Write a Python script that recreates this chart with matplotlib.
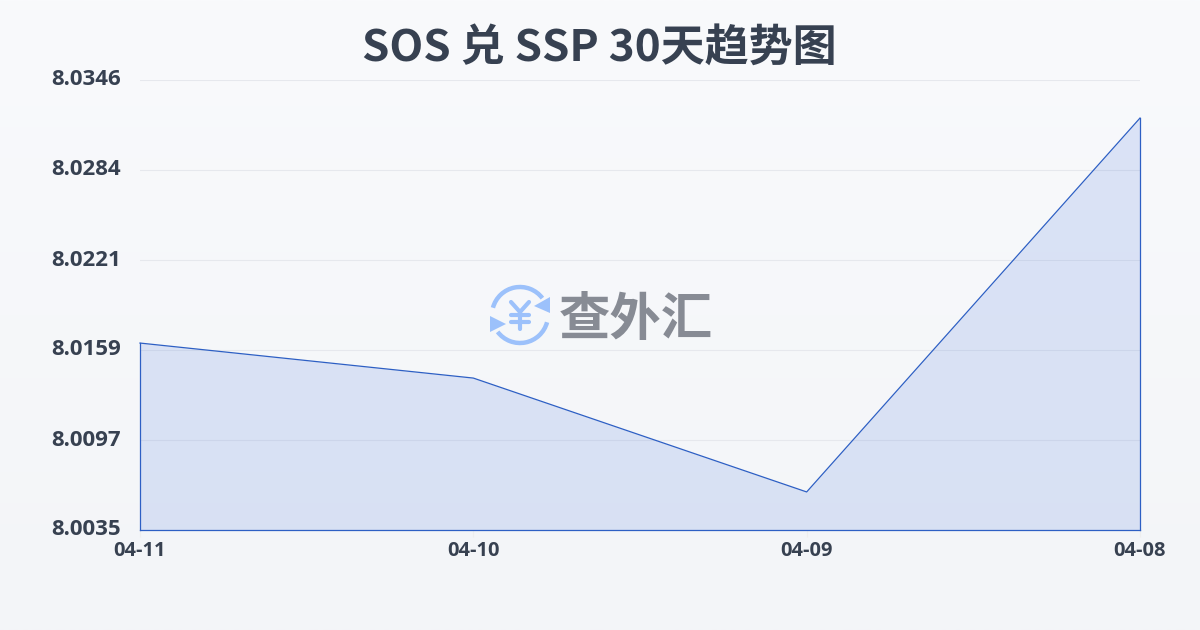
import numpy as np
import matplotlib
matplotlib.use('Agg')
import matplotlib.pyplot as plt
from matplotlib.patches import Arc, Polygon
from matplotlib.transforms import ScaledTranslation

plt.rcParams['font.family'] = ['Noto Sans CJK SC', 'DejaVu Sans']

# data
dates = ['04-11', '04-10', '04-09', '04-08']
rates = [8.01642, 8.01400, 8.00613, 8.03197]
y_ticks = [8.0035, 8.00972, 8.01594, 8.02216, 8.02838, 8.0346]
y_labels = ['8.0035', '8.0097', '8.0159', '8.0221', '8.0284', '8.0346']
title = 'SOS 兑 SSP 30天趋势图'

W, H = 1200, 630
line_color = '#2d5fc4'
text_color = '#374151'
label_font = ['Open Sans', 'DejaVu Sans']

fig = plt.figure(figsize=(12, 6.3), dpi=100)

# background gradient
bg = fig.add_axes([0, 0, 1, 1], zorder=0)
top = np.array([249, 250, 252]) / 255
bottom = np.array([243, 245, 248]) / 255
t = np.linspace(0, 1, 256)[:, None, None]
bg.imshow(top * (1 - t) + bottom * t, aspect='auto', extent=[0, W, H, 0])
bg.set_xlim(0, W)
bg.set_ylim(H, 0)
bg.axis('off')

# main chart
ax = fig.add_axes([140 / W, 1 - 530 / H, 1000 / W, 450 / H], zorder=1)
ax.patch.set_alpha(0)
x = np.arange(len(dates))
ax.fill_between(x, rates, y_ticks[0], color='#2f62d8', alpha=0.14, linewidth=0)
ax.plot(x, rates, color=line_color, linewidth=0.9, clip_on=False)
ax.plot([x[0], x[0]], [y_ticks[0], rates[0]], color=line_color, linewidth=0.9, clip_on=False)
ax.plot([x[-1], x[-1]], [y_ticks[0], rates[-1]], color=line_color, linewidth=0.9, clip_on=False)
ax.plot([x[0], x[-1]], [y_ticks[0], y_ticks[0]], color=line_color, linewidth=0.9, clip_on=False)
ax.set_xlim(x[0], x[-1])
ax.set_ylim(y_ticks[0], y_ticks[-1])
ax.set_xticks(x)
ax.set_xticklabels(dates, family=label_font, weight='bold', size=14.4, color=text_color)
ax.set_yticks(y_ticks)
ax.set_yticklabels(y_labels, family=label_font, weight='bold', size=16, color=text_color)
ax.grid(axis='y', color='#e6e8ed', linewidth=0.8)
ax.set_axisbelow(True)
for s in ax.spines.values():
    s.set_visible(False)
ax.tick_params(axis='y', length=0, pad=14)
ax.tick_params(axis='x', length=5, width=0.8, color='#eeeeee', pad=3)

# tick labels sit a little above their gridlines
up = ScaledTranslation(0, 2.5 / 100, fig.dpi_scale_trans)
for lab in ax.get_yticklabels():
    lab.set_transform(lab.get_transform() + up)

# title
fig.text(599 / W, 1 - 47.5 / H, title, ha='center', va='center', fontsize=31.7,
         fontweight='bold', color=text_color)

# watermark logo
ov = fig.add_axes([0, 0, 1, 1], zorder=2)
ov.patch.set_alpha(0)
ov.set_xlim(0, W)
ov.set_ylim(H, 0)
ov.axis('off')
blue = '#9cc1fb'
cx, cy = 520, 315
ov.add_patch(Arc((cx, cy), 56, 56, theta1=195, theta2=323, color=blue, lw=3.2))
ov.add_patch(Arc((cx, cy), 56, 56, theta1=15, theta2=143, color=blue, lw=3.2))
ov.add_patch(Polygon([(550, 297), (550, 313), (534, 306)], closed=True, color=blue, lw=0))
ov.add_patch(Polygon([(490, 316), (490, 332), (506, 324)], closed=True, color=blue, lw=0))
ov.plot([511, 520, 529], [302, 312, 302], color=blue, lw=3, solid_capstyle='round')
ov.plot([520, 520], [312, 329], color=blue, lw=3, solid_capstyle='round')
ov.plot([511, 529], [315, 315], color=blue, lw=3, solid_capstyle='round')
ov.plot([511, 529], [322, 322], color=blue, lw=3, solid_capstyle='round')
ov.text(635.5, 320, '查外汇', ha='center', va='center', fontsize=37, fontweight='bold',
        color='#878b94')

fig.savefig('out.png', dpi=100)
